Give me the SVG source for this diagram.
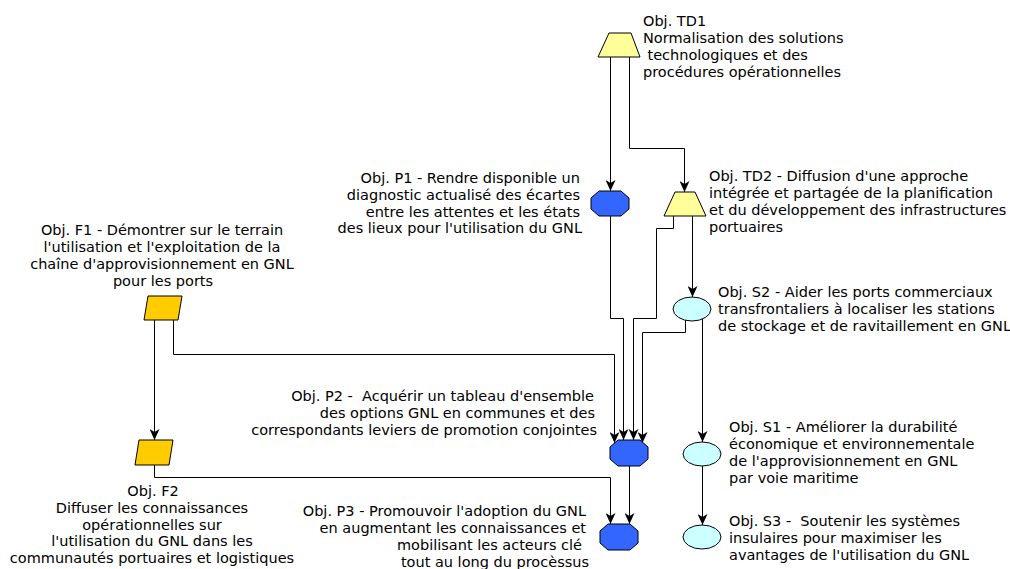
<svg xmlns="http://www.w3.org/2000/svg" width="1010" height="569" viewBox="0 0 1010 569">
<style>
text{font-family:"DejaVu Sans","Liberation Sans",sans-serif;font-size:14.5px;fill:#000}
.e{text-anchor:end}
.m{text-anchor:middle}
.trap{fill:#ffff99;stroke:#000;stroke-width:1}
.oct{fill:#3366ff;stroke:#000;stroke-width:1}
.par{fill:#ffcc00;stroke:#000;stroke-width:1}
.ell{fill:#ccffff;stroke:#000;stroke-width:1}
.c{fill:none;stroke:#000;stroke-width:1;marker-end:url(#arr)}
</style>
<defs>
<marker id="arr" viewBox="0 0 11 10" refX="11" refY="5" markerWidth="11" markerHeight="10" markerUnits="userSpaceOnUse" orient="auto">
<path d="M0,0 L11,5 L0,10 L3,5 z" fill="#000"/>
</marker>
</defs>
<rect width="1010" height="569" fill="#fff"/>
<g id="connectors">
<path class="c" d="M610.5,57 V191"/>
<path class="c" d="M629.5,57 V148.5 H684.5 V192"/>
<path class="c" d="M610.5,216 V318.5 H623.5 V440"/>
<path class="c" d="M673.5,216 V228.5 H656.5 V318.5 H633.5 V440"/>
<path class="c" d="M692.5,216 V297"/>
<path class="c" d="M685.5,320 V332.5 H642.5 V443"/>
<path class="c" d="M702.5,319 V442"/>
<path class="c" d="M173.5,320 V354.5 H614.5 V443"/>
<path class="c" d="M154.5,320 V440"/>
<path class="c" d="M154.5,465 V477.5 H610.5 V524"/>
<path class="c" d="M629.5,466 V524"/>
<path class="c" d="M702.5,466 V525"/>
</g>
<g id="TD1">
<polygon class="trap" points="609,33 631,33 640,57 598,57"/>
<text x="643" y="26">Obj. TD1</text>
<text x="643" y="43">Normalisation des solutions</text>
<text x="647.5" y="60">technologiques et des</text>
<text x="643" y="77">procédures opérationnelles</text>
</g>
<g id="TD2">
<polygon class="trap" points="675,192 695,192 706,216 664,216"/>
<text x="709" y="181">Obj. TD2 - Diffusion d'une approche</text>
<text x="709" y="198">intégrée et partagée de la planification</text>
<text x="709" y="215">et du développement des infrastructures</text>
<text x="709" y="232">portuaires</text>
</g>
<g id="P1">
<polygon class="oct" points="599,191 621,191 629,198 629,209 621,216 599,216 591,209 591,198"/>
<text class="e" x="580" y="183">Obj. P1 - Rendre disponible un</text>
<text class="e" x="580" y="200">diagnostic actualisé des écartes</text>
<text class="e" x="580" y="217">entre les attentes et les états</text>
<text class="e" x="582" y="233">des lieux pour l'utilisation du GNL</text>
</g>
<g id="S2">
<ellipse class="ell" cx="692" cy="309" rx="19" ry="12"/>
<text x="718" y="297">Obj. S2 - Aider les ports commerciaux</text>
<text x="718" y="314">transfrontaliers à localiser les stations</text>
<text x="718" y="331">de stockage et de ravitaillement en GNL</text>
</g>
<g id="F1">
<polygon class="par" points="148,296 182,296 178,320 144,320"/>
<text class="m" x="162" y="235">Obj. F1 - Démontrer sur le terrain</text>
<text class="m" x="162" y="252">l'utilisation et l'exploitation de la</text>
<text class="m" x="162" y="269">chaîne d'approvisionnement en GNL</text>
<text class="m" x="163" y="286">pour les ports</text>
</g>
<g id="P2">
<polygon class="oct" points="618,440 640,440 648,447 648,459 640,466 618,466 610,459 610,447"/>
<text class="e" x="594" y="401" xml:space="preserve">Obj. P2 -  Acquérir un tableau d'ensemble</text>
<text class="e" x="595" y="418">des options GNL en communes et des</text>
<text class="e" x="597" y="435">correspondants leviers de promotion conjointes</text>
</g>
<g id="F2">
<polygon class="par" points="139,440 173,440 169,465 135,465"/>
<text class="m" x="153" y="496">Obj. F2</text>
<text class="m" x="152" y="513">Diffuser les connaissances</text>
<text class="m" x="152" y="530">opérationnelles sur</text>
<text class="m" x="152" y="546">l'utilisation du GNL dans les</text>
<text class="m" x="152" y="563">communautés portuaires et logistiques</text>
</g>
<g id="P3">
<polygon class="oct" points="608,524 630,524 638,531 638,543 630,550 608,550 600,543 600,531"/>
<text class="e" x="586" y="516">Obj. P3 - Promouvoir l'adoption du GNL</text>
<text class="e" x="586" y="533">en augmentant les connaissances et</text>
<text class="e" x="582" y="550">mobilisant les acteurs clé</text>
<text class="e" x="589" y="567">tout au long du procèssus</text>
</g>
<g id="S1">
<ellipse class="ell" cx="702" cy="454" rx="19" ry="12"/>
<text x="729" y="432">Obj. S1 - Améliorer la durabilité</text>
<text x="729" y="449">économique et environnementale</text>
<text x="729" y="466">de l'approvisionnement en GNL</text>
<text x="729" y="483">par voie maritime</text>
</g>
<g id="S3">
<ellipse class="ell" cx="702" cy="537" rx="19" ry="12"/>
<text x="729" y="526" xml:space="preserve">Obj. S3 -  Soutenir les systèmes</text>
<text x="729" y="543">insulaires pour maximiser les</text>
<text x="729" y="560">avantages de l'utilisation du GNL</text>
</g>
</svg>
